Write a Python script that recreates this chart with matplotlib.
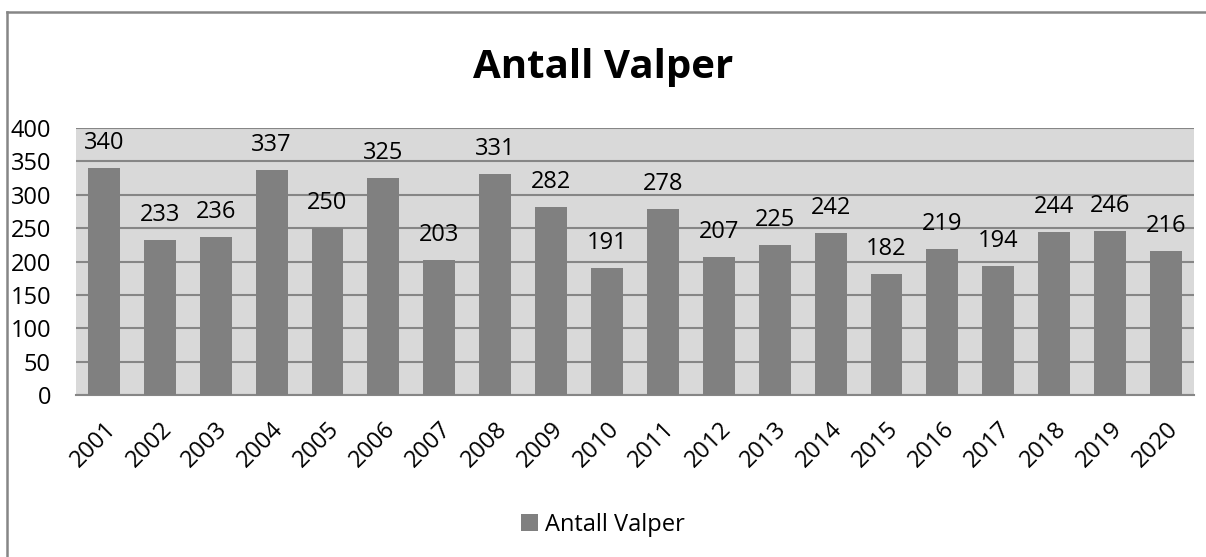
import matplotlib.pyplot as plt
import numpy as np
from matplotlib.lines import Line2D

years = ['2001', '2002', '2003', '2004', '2005', '2006', '2007', '2008', '2009', '2010',
         '2011', '2012', '2013', '2014', '2015', '2016', '2017', '2018', '2019', '2020']
valper = [340, 233, 236, 337, 250, 325, 203, 331, 282, 191,
          278, 207, 225, 242, 182, 219, 194, 244, 246, 216]
yticks = [0, 50, 100, 150, 200, 250, 300, 350, 400]

plt.rcParams['font.family'] = ['Open Sans', 'DejaVu Sans']

fig = plt.figure(figsize=(12.06, 5.57), dpi=100)
ax = fig.add_axes([0.063, 0.291, 0.927, 0.479])

x = np.arange(len(years))
ax.bar(x, valper, width=0.57, color='#808080', label='Antall Valper', zorder=3)

# verdier over stolpene
for xi, v in zip(x, valper):
    ax.annotate(str(v), (xi, v), xytext=(0, 18), textcoords='offset points',
                ha='center', va='center', fontsize=17, color='black')

ax.set_facecolor('#D9D9D9')
ax.set_xlim(-0.5, len(years) - 0.5)
ax.set_ylim(0, 400)
ax.set_yticks(yticks)
ax.yaxis.grid(True, color='#868686', linewidth=1.5, zorder=0)
ax.set_axisbelow(True)
for s in ['left', 'right', 'top']:
    ax.spines[s].set_visible(False)
ax.spines['bottom'].set_color('#868686')
ax.spines['bottom'].set_linewidth(1.5)
ax.tick_params(axis='y', length=0, labelsize=17, pad=18)
ax.tick_params(axis='x', length=0, labelsize=17, pad=16)
ax.set_xticks(x)
ax.set_xticklabels(years, rotation=45, ha='right', rotation_mode='anchor')

fig.text(0.5, 0.878, 'Antall Valper', ha='center', va='center',
         fontsize=29, fontweight='bold')

fig.legend(loc='center', bbox_to_anchor=(0.5, 0.058), frameon=False, fontsize=17,
           handlelength=0.7, handleheight=0.7, handletextpad=0.3)

# ramme (bare venstre og topp synlig)
fig.add_artist(Line2D([0.0056, 0.0056], [0.0, 0.979], transform=fig.transFigure,
                      color='#868686', linewidth=1.8))
fig.add_artist(Line2D([0.0056, 1.0], [0.979, 0.979], transform=fig.transFigure,
                      color='#868686', linewidth=1.8))

fig.savefig('out.png', dpi=100)
